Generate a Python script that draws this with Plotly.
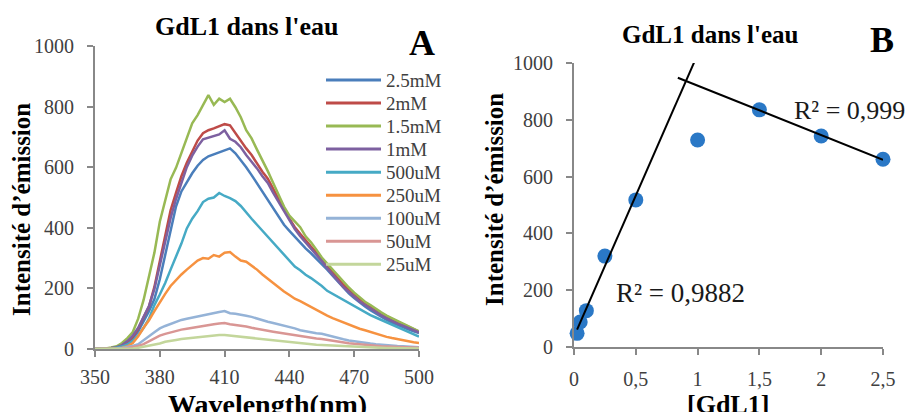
import plotly.graph_objects as go
import numpy as np

# ---------------- data ----------------
wavelength = [350, 352.5, 355, 357.5, 360, 362.5, 365, 367.5, 370, 372.5,
              375, 377.5, 380, 382.5, 385, 387.5, 390, 392.5, 395, 397.5,
              400, 402.5, 405, 407.5, 410, 412.5, 415, 417.5, 420, 422.5,
              425, 427.5, 430, 432.5, 435, 437.5, 440, 442.5, 445, 447.5,
              450, 452.5, 455, 457.5, 460, 462.5, 465, 467.5, 470, 472.5,
              475, 477.5, 480, 482.5, 485, 487.5, 490, 492.5, 495, 497.5, 500]

s_2_5mM = [0, 0, 1, 2, 5, 10, 20, 35, 58, 90, 125, 165, 230, 310, 395, 470, 520, 552, 580, 605,
           624, 636, 642, 648, 656, 662, 646, 624, 600, 574, 546, 518, 490, 462, 436, 410, 390, 370, 352, 332,
           316, 299, 282, 262, 242, 222, 202, 184, 168, 153, 140, 128, 117, 106, 96, 87, 79, 72, 65, 58, 53]
s_2mM = [0, 0, 1, 3, 6, 12, 24, 40, 66, 105, 140, 205, 290, 372, 458, 515, 570, 615, 652, 688,
         712, 722, 728, 736, 742, 738, 712, 688, 662, 640, 612, 585, 562, 528, 492, 462, 430, 402, 380, 358,
         338, 318, 298, 276, 255, 232, 212, 196, 180, 166, 152, 140, 128, 118, 108, 98, 90, 82, 73, 64, 57]
s_1_5mM = [0, 0, 2, 5, 9, 20, 36, 56, 100, 162, 238, 318, 420, 490, 560, 598, 648, 702, 745, 772,
           805, 838, 806, 826, 815, 826, 798, 765, 722, 695, 658, 625, 587, 548, 508, 470, 440, 422, 402, 372,
           352, 328, 302, 282, 262, 240, 220, 203, 186, 170, 156, 145, 132, 121, 110, 101, 92, 84, 76, 67, 58]
s_1mM = [0, 0, 1, 3, 6, 13, 26, 44, 70, 106, 142, 198, 276, 350, 432, 495, 548, 600, 638, 668,
         692, 698, 702, 708, 722, 694, 684, 666, 640, 618, 596, 570, 548, 515, 485, 452, 424, 396, 372, 352,
         332, 310, 290, 267, 246, 224, 204, 188, 172, 157, 145, 133, 121, 111, 101, 92, 84, 77, 69, 61, 55]
s_500uM = [0, 0, 1, 2, 4, 8, 15, 27, 45, 70, 100, 145, 180, 218, 262, 302, 348, 398, 430, 455,
           485, 496, 500, 515, 505, 498, 488, 472, 450, 430, 410, 390, 370, 350, 330, 310, 290, 272, 260, 245,
           234, 222, 208, 192, 182, 170, 160, 150, 140, 130, 120, 112, 104, 96, 88, 80, 72, 64, 56, 48, 41]
s_250uM = [0, 0, 0, 1, 2, 4, 9, 20, 42, 70, 95, 125, 155, 182, 208, 228, 246, 262, 278, 292,
           300, 298, 310, 305, 318, 320, 305, 292, 288, 276, 262, 246, 232, 216, 204, 190, 178, 166, 158, 148,
           138, 128, 120, 110, 102, 95, 88, 80, 73, 67, 62, 56, 50, 45, 40, 36, 32, 28, 25, 22, 20]
s_100uM = [0, 0, 0, 0, 1, 3, 6, 10, 16, 28, 42, 55, 68, 76, 83, 90, 96, 100, 104, 108,
           112, 115, 118, 122, 125, 118, 116, 114, 110, 106, 100, 95, 90, 86, 82, 78, 72, 68, 62, 58,
           55, 52, 50, 45, 40, 36, 32, 28, 25, 22, 20, 18, 16, 14, 12, 11, 10, 9, 8, 7, 6]
s_50uM = [0, 0, 0, 0, 0, 1, 3, 6, 10, 16, 25, 35, 44, 50, 55, 60, 64, 67, 70, 74,
          78, 80, 82, 84, 86, 82, 80, 77, 74, 70, 66, 63, 60, 57, 54, 52, 49, 45, 42, 40,
          37, 35, 33, 30, 26, 24, 21, 19, 17, 15, 13, 12, 10, 9, 8, 7, 6, 5, 5, 4, 4]
s_25uM = [0, 0, 0, 0, 0, 0, 1, 2, 4, 7, 10, 13, 18, 24, 28, 30, 33, 35, 38, 40,
          42, 43, 44, 46, 46, 44, 43, 41, 39, 37, 35, 33, 31, 29, 27, 25, 23, 21, 19, 17,
          15, 14, 13, 12, 11, 10, 9, 8, 7, 6, 5, 5, 4, 4, 3, 3, 3, 2, 2, 2, 2]

series_names = ["2.5mM", "2mM", "1.5mM", "1mM", "500uM", "250uM", "100uM", "50uM", "25uM"]
series_values = [s_2_5mM, s_2mM, s_1_5mM, s_1mM, s_500uM, s_250uM, s_100uM, s_50uM, s_25uM]
series_colors = ["#4A7EBB", "#BE4B48", "#98B954", "#7D60A0", "#46AAC5",
                 "#F69240", "#95B3D7", "#D99694", "#C3D69B"]

conc = [0.025, 0.05, 0.1, 0.25, 0.5, 1, 1.5, 2, 2.5]
intensity = [48, 88, 128, 320, 518, 729, 835, 743, 661]

x_ticks_a = [350, 380, 410, 440, 470, 500]
y_ticks = [0, 200, 400, 600, 800, 1000]
x_ticks_b = [0, 0.5, 1, 1.5, 2, 2.5]
x_ticktext_b = ["0", "0,5", "1", "1,5", "2", "2,5"]

# ---------------- figure ----------------
W, H = 913, 412
OFF = 8  # page body margin of the browser
SERIF = "Liberation Serif"
fig = go.Figure()


def px(x):
    return (x - OFF) / W


def py(y):
    return 1 - (y - OFF) / H


for name, vals, col in zip(series_names, series_values, series_colors):
    fig.add_trace(go.Scatter(x=wavelength, y=vals, mode="lines", name=name, showlegend=False,
                             line=dict(color=col, width=2.5), xaxis="x", yaxis="y"))

fig.add_trace(go.Scatter(x=conc, y=intensity, mode="markers", showlegend=False,
                         marker=dict(color="#2A78C6", size=15), cliponaxis=False,
                         xaxis="x2", yaxis="y2"))

# linear trendlines (computed from data)
c = np.array(conc)
v = np.array(intensity)
p1 = np.polyfit(c[:5], v[:5], 1)
p2 = np.polyfit(c[6:], v[6:], 1)
t1 = np.array([0.025, 1.0])
t2 = np.array([0.84, 2.5])
fig.add_trace(go.Scatter(x=t1, y=np.polyval(p1, t1), mode="lines", showlegend=False,
                         line=dict(color="black", width=2), xaxis="x2", yaxis="y2"))
fig.add_trace(go.Scatter(x=t2, y=np.polyval(p2, t2), mode="lines", showlegend=False,
                         line=dict(color="black", width=2), xaxis="x2", yaxis="y2"))

AX = dict(showline=True, linecolor="#888888", linewidth=2, ticks="outside", ticklen=6,
          tickwidth=2, tickcolor="#888888", showgrid=False, zeroline=False, automargin=False,
          tickfont=dict(family=SERIF, size=20, color="#404040"))

fig.update_layout(
    width=W, height=H, margin=dict(l=0, r=0, t=0, b=0, autoexpand=False),
    font=dict(family=SERIF, color="#1a1a1a"),
    paper_bgcolor="white", plot_bgcolor="white", showlegend=False,
    xaxis=dict(domain=[px(95), px(419)], range=[350, 500], tickvals=x_ticks_a,
               anchor="y", ticklabelstandoff=3, **AX),
    yaxis=dict(domain=[py(349), py(46)], range=[0, 1000], tickvals=y_ticks,
               anchor="x", ticklabelstandoff=9, **AX),
    xaxis2=dict(domain=[px(574), px(883)], range=[0, 2.5], tickvals=x_ticks_b,
                ticktext=x_ticktext_b, anchor="y2", ticklabelstandoff=7, **AX),
    yaxis2=dict(domain=[py(347), py(63)], range=[0, 1000], tickvals=y_ticks,
                anchor="x2", ticklabelstandoff=9, **AX),
)

# legend (panel A), one row per series
LEG_X0, LEG_X1, LEG_TXT, LEG_Y0, LEG_DY = 326, 381, 384, 80, 23.04
for i, (name, col) in enumerate(zip(series_names, series_colors)):
    yy = LEG_Y0 + i * LEG_DY
    fig.add_shape(type="line", xref="paper", yref="paper",
                  x0=px(LEG_X0), x1=px(LEG_X1), y0=py(yy), y1=py(yy),
                  line=dict(color=col, width=3))
    fig.add_annotation(text=name, x=px(LEG_TXT), y=py(yy), xref="paper", yref="paper",
                       showarrow=False, xanchor="left", yanchor="middle",
                       font=dict(family=SERIF, size=19, color="#404040"))


def ann(text, x, y, size, bold=False, angle=0, color="black"):
    fig.add_annotation(text=f"<b>{text}</b>" if bold else text, x=px(x), y=py(y),
                       xref="paper", yref="paper", showarrow=False, textangle=angle,
                       xanchor="center", yanchor="middle",
                       font=dict(family=SERIF, size=size, color=color))


ann("GdL1 dans l'eau", 247, 27, 26, bold=True)
ann("GdL1 dans l'eau", 710, 35, 25, bold=True)
ann("A", 422, 43, 36, bold=True)
ann("B", 882, 40, 36, bold=True)
ann("Intensité d’émission", 21, 210, 25, bold=True, angle=-90)
ann("Intensité d’émission", 494, 200, 25, bold=True, angle=-90)
ann("Wavelength(nm)", 267, 404, 28, bold=True)
ann("[GdL1]", 728, 404, 26, bold=True)
ann("R² = 0,999", 849, 110, 26, color="#1a1a1a")
ann("R² = 0,9882", 680, 293, 27, color="#1a1a1a")

fig.write_html("out.html")
